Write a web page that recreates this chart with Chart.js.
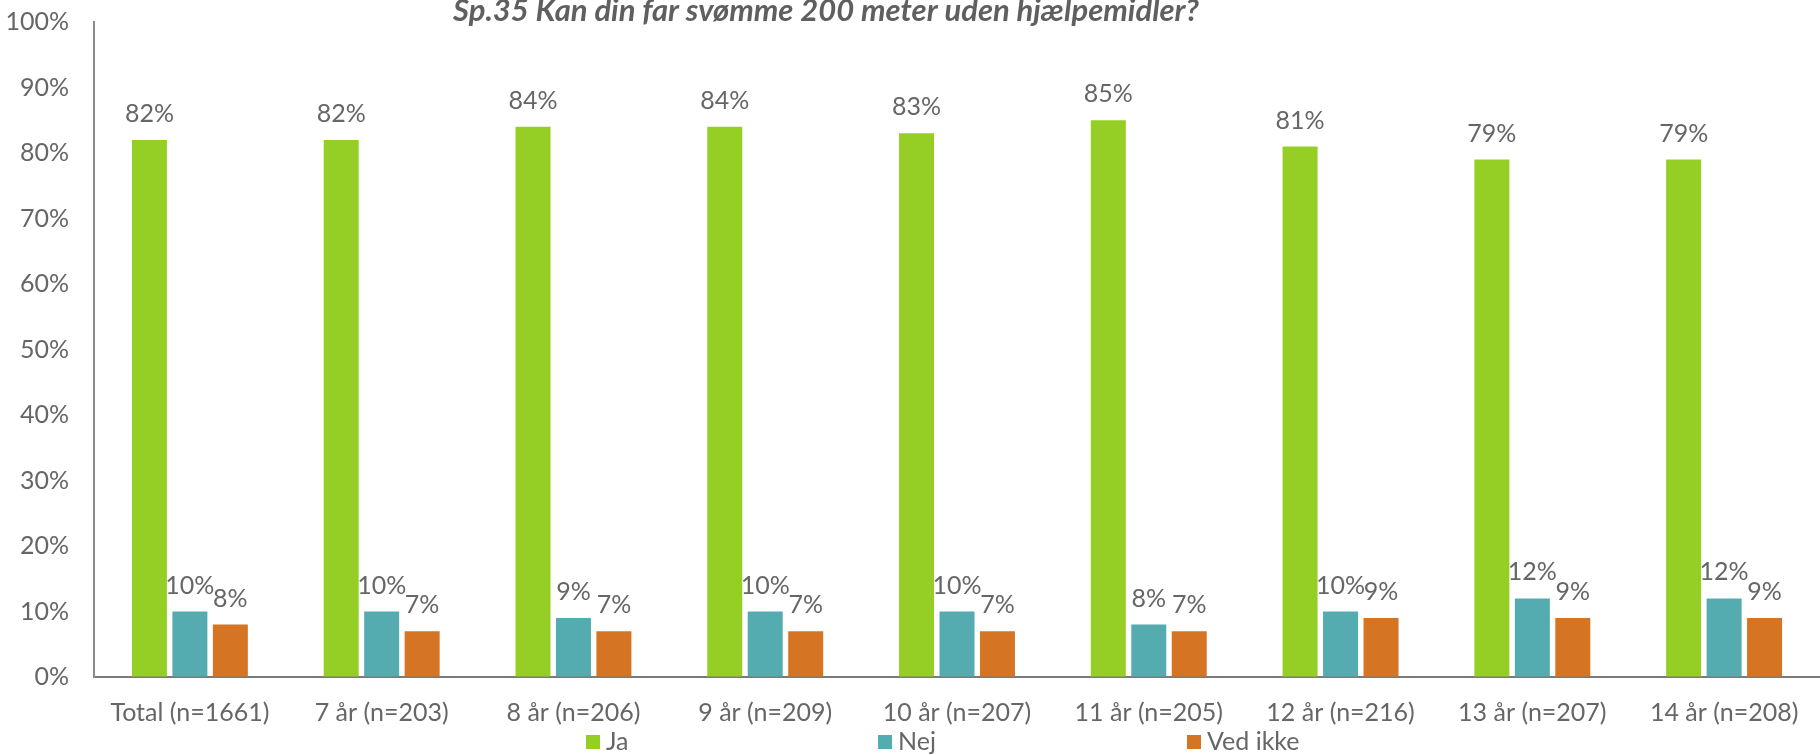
<!DOCTYPE html>
<html lang="da">
<head>
<meta charset="utf-8">
<title>Sp.35 Kan din far svømme 200 meter uden hjælpemidler?</title>
<script src="https://cdn.jsdelivr.net/npm/chart.js@4.4.1/dist/chart.umd.min.js"></script>
<style>
  html, body { margin: 0; padding: 0; background: #fff; }
  #wrap { position: relative; width: 1820px; height: 755px; }
</style>
</head>
<body>
<div id="wrap"><canvas id="barChart"></canvas></div>
<script>
const chartTitle = 'Sp.35 Kan din far svømme 200 meter uden hjælpemidler?';
const categories = ['Total (n=1661)', '7 år (n=203)', '8 år (n=206)', '9 år (n=209)',
  '10 år (n=207)', '11 år (n=205)', '12 år (n=216)', '13 år (n=207)', '14 år (n=208)'];
const seriesNames = ['Ja', 'Nej', 'Ved ikke'];
const jaValues = [82, 82, 84, 84, 83, 85, 81, 79, 79];
const nejValues = [10, 10, 9, 10, 10, 8, 10, 12, 12];
const vedIkkeValues = [8, 7, 7, 7, 7, 7, 9, 9, 9];
const yTicks = [0, 10, 20, 30, 40, 50, 60, 70, 80, 90, 100];

const COLORS = ['#95CF25', '#54ABB0', '#D57524'];
const TEXT = '#666666';
const FONT = 'Lato, "Open Sans", sans-serif';

// value labels above each bar
const valueLabels = {
  id: 'valueLabels',
  afterDatasetsDraw(chart) {
    const ctx = chart.ctx;
    ctx.save();
    ctx.font = `25px ${FONT}`;
    ctx.fillStyle = TEXT;
    ctx.textAlign = 'center';
    ctx.textBaseline = 'middle';
    chart.data.datasets.forEach((ds, i) => {
      chart.getDatasetMeta(i).data.forEach((bar, j) => {
        ctx.fillText(ds.data[j] + '%', bar.x, bar.y - 26);
      });
    });
    ctx.restore();
  }
};

// title and spread-out legend along the bottom
const titleAndLegend = {
  id: 'titleAndLegend',
  afterDraw(chart) {
    const ctx = chart.ctx;
    ctx.save();
    ctx.fillStyle = '#5f5f5f';
    ctx.font = `italic bold 31px ${FONT}`;
    ctx.textAlign = 'center';
    ctx.textBaseline = 'alphabetic';
    ctx.fillText(chartTitle, 826, 21);

    const legendX = [586, 878, 1187];
    ctx.font = `25px ${FONT}`;
    ctx.textAlign = 'left';
    ctx.textBaseline = 'middle';
    chart.data.datasets.forEach((ds, i) => {
      ctx.fillStyle = ds.backgroundColor;
      ctx.fillRect(legendX[i], 735, 14, 14);
      ctx.fillStyle = TEXT;
      ctx.fillText(ds.label, legendX[i] + 20, 742);
    });
    ctx.restore();
  }
};

new Chart(document.getElementById('barChart'), {
  type: 'bar',
  data: {
    labels: categories,
    datasets: [
      { label: seriesNames[0], data: jaValues, backgroundColor: COLORS[0] },
      { label: seriesNames[1], data: nejValues, backgroundColor: COLORS[1] },
      { label: seriesNames[2], data: vedIkkeValues, backgroundColor: COLORS[2] }
    ]
  },
  options: {
    responsive: true,
    maintainAspectRatio: false,
    animation: false,
    datasets: {
      bar: { categoryPercentage: 0.633, barPercentage: 0.865 }
    },
    layout: { padding: { top: 22, right: 0, bottom: 0, left: 0 } },
    plugins: {
      legend: { display: false },
      title: { display: false },
      tooltip: { enabled: false }
    },
    scales: {
      x: {
        grid: { display: false, drawTicks: false },
        border: { display: true, color: '#7a7a7a', width: 2 },
        ticks: { color: TEXT, font: { family: FONT, size: 25 }, padding: 21, maxRotation: 0, autoSkip: false },
        afterFit(scale) { scale.height = 78; }
      },
      y: {
        min: 0,
        max: 100,
        // invisible tick marks keep the labels clear of the axis line
        grid: { display: true, drawOnChartArea: false, drawTicks: true, tickLength: 25, tickColor: 'rgba(0,0,0,0)' },
        border: { display: true, color: '#8a8a8a', width: 2 },
        afterBuildTicks(scale) { scale.ticks = yTicks.map(v => ({ value: v })); },
        ticks: {
          color: TEXT,
          font: { family: FONT, size: 25 },
          padding: 0,
          callback: v => v + '%'
        },
        afterFit(scale) { scale.width = 94; }
      }
    }
  },
  plugins: [valueLabels, titleAndLegend]
});
</script>
</body>
</html>
